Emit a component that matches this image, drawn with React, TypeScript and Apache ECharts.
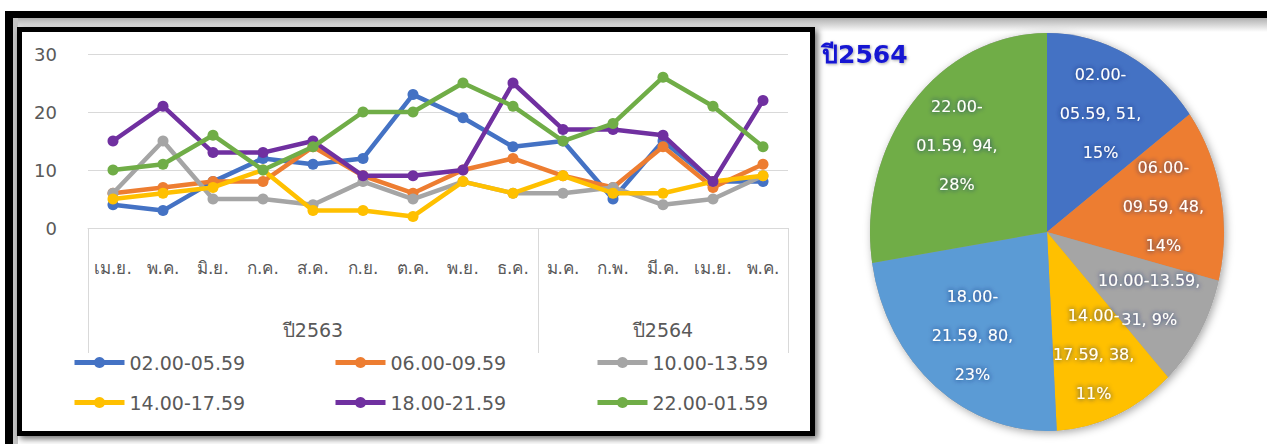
import { useEffect, useRef } from 'react';
import * as echarts from 'echarts';

const months = ['เม.ย.', 'พ.ค.', 'มิ.ย.', 'ก.ค.', 'ส.ค.', 'ก.ย.', 'ต.ค.', 'พ.ย.', 'ธ.ค.', 'ม.ค.', 'ก.พ.', 'มี.ค.', 'เม.ย.', 'พ.ค.'];
const years = ['ปี2563', 'ปี2564'];
const yearMonthCounts = [9, 5];
const seriesNames = ['02.00-05.59', '06.00-09.59', '10.00-13.59', '14.00-17.59', '18.00-21.59', '22.00-01.59'];
const s0200 = [4, 3, 8, 12, 11, 12, 23, 19, 14, 15, 5, 15, 8, 8];
const s0600 = [6, 7, 8, 8, 14, 9, 6, 10, 12, 9, 7, 14, 7, 11];
const s1000 = [6, 15, 5, 5, 4, 8, 5, 8, 6, 6, 7, 4, 5, 9];
const s1400 = [5, 6, 7, 10, 3, 3, 2, 8, 6, 9, 6, 6, 8, 9];
const s1800 = [15, 21, 13, 13, 15, 9, 9, 10, 25, 17, 17, 16, 8, 22];
const s2200 = [10, 11, 16, 10, 14, 20, 20, 25, 21, 15, 18, 26, 21, 14];
const lineData = [s0200, s0600, s1000, s1400, s1800, s2200];
const lineColors = ['#4472C4', '#ED7D31', '#A5A5A5', '#FFC000', '#7030A0', '#70AD47'];

const pieTitle = 'ปี2564';
const pieValues = [51, 48, 31, 38, 80, 94];
const pieColors = ['#4472C4', '#ED7D31', '#A5A5A5', '#FFC000', '#5B9BD5', '#70AD47'];
const pieWrapName = [true, true, false, true, true, true];

const FONT = '"DejaVu Sans", "Noto Sans", sans-serif';
const GREY = '#595959';

// pie geometry (slightly elliptical, as in the picture)
const PCX = 1047;
const PCY = 232;
const PRX = 177;
const PRY = 199;
const LABEL_K = 0.67;

function largestRemainderPercents(vals: number[]): number[] {
  const total = vals.reduce((a, b) => a + b, 0);
  const raw = vals.map((v) => (v / total) * 100);
  const fl = raw.map((r) => Math.floor(r));
  let left = 100 - fl.reduce((a, b) => a + b, 0);
  const order = raw.map((r, i) => [r - Math.floor(r), i]).sort((a, b) => b[0] - a[0]);
  for (let k = 0; k < order.length && left > 0; k++, left--) fl[order[k][1]] += 1;
  return fl;
}

export default function App() {
  const ref = useRef<HTMLDivElement>(null);
  useEffect(() => {
    if (!ref.current) return;
    const chart = echarts.init(ref.current, undefined, { renderer: 'svg' });

    const yearAxisData: string[] = [];
    years.forEach((y, i) => {
      const n = yearMonthCounts[i];
      for (let k = 0; k < n; k++) yearAxisData.push(k === Math.floor(n / 2) ? y : '');
    });
    const boundaries: number[] = [0];
    let acc = 0;
    yearMonthCounts.slice(0, -1).forEach((n) => { acc += n; boundaries.push(acc); });

    const pieTotal = pieValues.reduce((a, b) => a + b, 0);
    const pieStarts = pieValues.map((_, i) => pieValues.slice(0, i).reduce((a, b) => a + b, 0));
    const piePercents = largestRemainderPercents(pieValues);

    const legendLefts = [72, 333, 595];

    const option: any = {
      animation: false,
      backgroundColor: '#ffffff',
      textStyle: { fontFamily: FONT },
      graphic: [
        { type: 'rect', z: -20, shape: { x: 5, y: 11, width: 1262, height: 7 }, style: { fill: '#000' } },
        { type: 'rect', z: -20, shape: { x: 5, y: 11, width: 8, height: 433 }, style: { fill: '#000' } },
        {
          type: 'rect', z: -21, shape: { x: 13, y: 18, width: 1254, height: 14 },
          style: { fill: new echarts.graphic.LinearGradient(0, 0, 0, 1, [{ offset: 0, color: '#b0b0b0' }, { offset: 1, color: '#ffffff' }]) },
        },
        { type: 'rect', z: -21, shape: { x: 13, y: 18, width: 5, height: 426 }, style: { fill: '#c4c4c4' } },
        {
          type: 'rect', z: -19, shape: { x: 19.5, y: 29.5, width: 793, height: 404 },
          style: { fill: '#fff', stroke: '#000', lineWidth: 5, shadowBlur: 6, shadowOffsetX: 3, shadowOffsetY: 3, shadowColor: 'rgba(0,0,0,0.55)' },
        },
        {
          type: 'ellipse', z: -5, shape: { cx: PCX, cy: PCY, rx: PRX, ry: PRY },
          style: { fill: '#9a9a9a', shadowBlur: 8, shadowOffsetX: 2, shadowOffsetY: 2, shadowColor: 'rgba(0,0,0,0.35)' },
        },
        {
          type: 'text', z: 10, left: 822, top: 42,
          style: { text: pieTitle, fill: '#1414d2', font: 'bold 25px ' + FONT, textShadowColor: 'rgba(0,0,0,0.35)', textShadowBlur: 3, textShadowOffsetX: 1, textShadowOffsetY: 1 },
        },
      ],
      grid: { left: 88, right: 479, top: 54, bottom: 216, containLabel: false },
      xAxis: [
        {
          type: 'category', data: months, boundaryGap: true, position: 'bottom',
          axisLine: { show: true, lineStyle: { color: '#d9d9d9', width: 1 } },
          axisTick: { show: true, length: 125, lineStyle: { color: '#d9d9d9' }, interval: (i: number) => boundaries.includes(i) },
          axisLabel: { interval: 0, color: GREY, fontSize: 17, margin: 31, fontFamily: FONT },
          splitLine: { show: false },
        },
        {
          type: 'category', data: yearAxisData, boundaryGap: true, position: 'bottom',
          axisLine: { show: false }, axisTick: { show: false },
          axisLabel: { interval: 0, color: GREY, fontSize: 19, margin: 92, fontFamily: FONT },
          splitLine: { show: false },
        },
      ],
      yAxis: {
        type: 'value', min: 0, max: 30, interval: 10,
        axisLine: { show: false }, axisTick: { show: false },
        axisLabel: { color: GREY, fontSize: 18, margin: 31, fontFamily: FONT },
        splitLine: { lineStyle: { color: '#d9d9d9', width: 1 } },
      },
      legend: legendLefts.map((left, c) => ({
        data: [seriesNames[c], seriesNames[c + 3]],
        orient: 'vertical', left, top: 353, padding: 0,
        itemWidth: 50, itemHeight: 14, itemGap: 21,
        lineStyle: { width: 5 },
        textStyle: { color: GREY, fontSize: 19, fontFamily: FONT },
        selectedMode: false,
      })),
      series: [
        ...lineData.map((d, i) => ({
          name: seriesNames[i], type: 'line', data: d, xAxisIndex: 0,
          symbol: 'circle', symbolSize: 11,
          lineStyle: { width: 4.5, color: lineColors[i] },
          itemStyle: { color: lineColors[i] },
          z: 2 + i,
        })),
        {
          type: 'custom', name: 'pie', coordinateSystem: 'none', silent: true,
          data: pieValues,
          renderItem: (params: any, api: any) => {
            const i = params.dataIndex;
            const v = api.value(0);
            const a0 = -Math.PI / 2 + (pieStarts[i] / pieTotal) * 2 * Math.PI;
            const a1 = a0 + (v / pieTotal) * 2 * Math.PI;
            const mid = (a0 + a1) / 2;
            const name = seriesNames[i];
            const [a, b] = name.split('-');
            const text = pieWrapName[i]
              ? `${a}-\n${b}, ${v},\n${piePercents[i]}%`
              : `${name},\n${v}, ${piePercents[i]}%`;
            return {
              type: 'group',
              children: [
                {
                  type: 'sector', x: PCX, y: PCY, scaleY: PRY / PRX,
                  shape: { cx: 0, cy: 0, r0: 0, r: PRX, startAngle: a0, endAngle: a1, clockwise: true },
                  style: { fill: pieColors[i] },
                },
                {
                  type: 'text', z2: 100,
                  x: PCX + LABEL_K * PRX * Math.cos(mid),
                  y: PCY + LABEL_K * PRY * Math.sin(mid),
                  style: {
                    text, fill: '#ffffff', font: '16px ' + FONT, align: 'center', verticalAlign: 'middle', lineHeight: 39,
                    textShadowColor: 'rgba(20,40,110,0.95)', textShadowBlur: 5,
                  },
                },
              ],
            };
          },
        },
      ],
    };
    chart.setOption(option);
    return () => chart.dispose();
  }, []);
  return <div ref={ref} style={{ position: 'absolute', left: 0, top: 0, width: 1267, height: 444 }} />;
}
